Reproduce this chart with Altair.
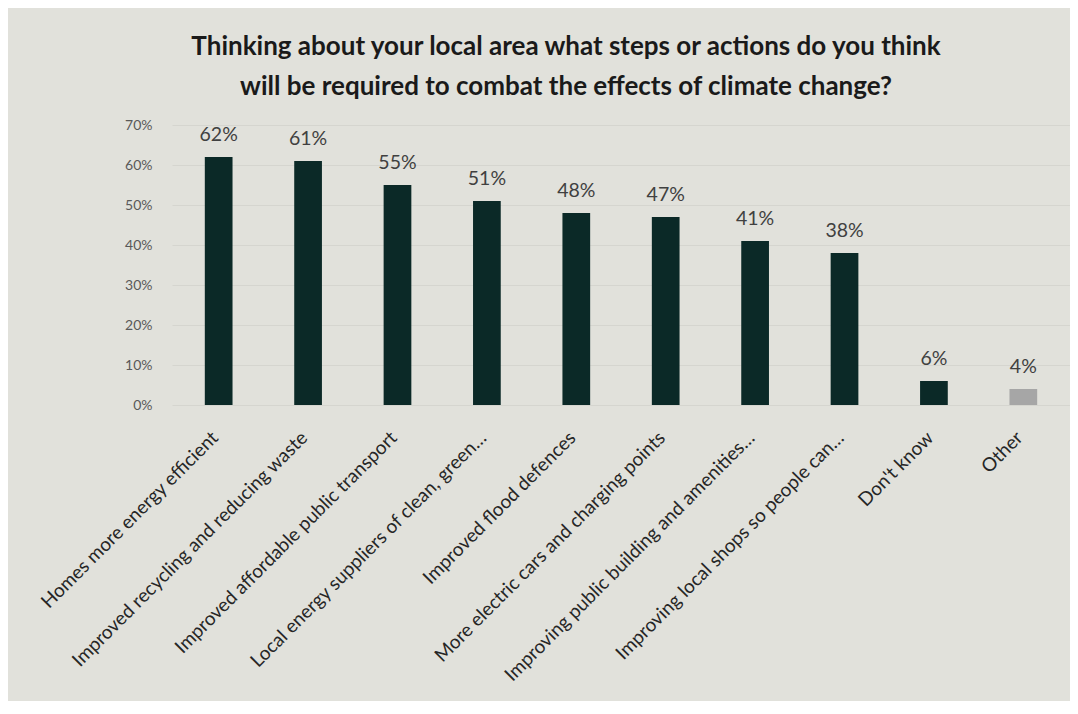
import altair as alt
import pandas as pd

categories = [
    "Homes more energy efficient",
    "Improved recycling and reducing waste",
    "Improved affordable  public transport",
    "Local energy suppliers of clean, green…",
    "Improved flood defences",
    "More electric cars and charging points",
    "Improving public building and  amenities…",
    "Improving local shops  so people can…",
    "Don't know",
    "Other",
]
values = [62, 61, 55, 51, 48, 47, 41, 38, 6, 4]
groups = ["main"] * 9 + ["other"]
y_ticks = [0, 0.1, 0.2, 0.3, 0.4, 0.5, 0.6, 0.7]

df = pd.DataFrame({"cat": categories, "val": [v / 100 for v in values], "grp": groups,
                   "lbl": [f"{v}%" for v in values]})

FONT = "Lato"
BG = "#e1e1db"

x = alt.X("cat:N", sort=categories, title=None,
          scale=alt.Scale(paddingInner=0.69, paddingOuter=0.367),
          axis=alt.Axis(labelAngle=-45, labelFontSize=19, labelColor="#262626",
                        labelFont=FONT, ticks=False, domain=False, labelPadding=23,
                        labelOffset=-10, labelLimit=400))
y = alt.Y("val:Q", title=None,
          scale=alt.Scale(domain=[0, 0.7]),
          axis=alt.Axis(format=".0%", values=y_ticks, tickCount=8,
                        labelFontSize=14, labelColor="#595959", labelFont=FONT,
                        labelOverlap=False,
                        ticks=False, domain=False, labelPadding=20,
                        grid=True, gridColor="#d5d5cf", gridWidth=1))

bars = alt.Chart(df).mark_bar().encode(
    x=x, y=y,
    color=alt.Color("grp:N", scale=alt.Scale(domain=["main", "other"],
                                             range=["#0b2927", "#a6a6a6"]), legend=None),
)
labels = alt.Chart(df).mark_text(baseline="bottom", dy=-12, fontSize=19.5,
                                 color="#404040", font=FONT).encode(
    x=x, y=y, text="lbl:N")

chart = (bars + labels).properties(
    width=898, height=280,
    background=BG,
    padding={"left": 164, "top": 117, "right": 0, "bottom": 296},
    autosize=alt.AutoSizeParams(type="none"),
    title=alt.Title(
        ["Thinking about your local area what steps or actions do you think",
         "will be required to combat the effects of climate change?"],
        font=FONT, fontSize=26, fontWeight="bold", color="#1a1a1a",
        anchor="middle", dx=-55, offset=18, lineHeight=40),
).configure_view(stroke=None)

chart.save("out.html", embed_options={"renderer": "svg", "actions": False})
